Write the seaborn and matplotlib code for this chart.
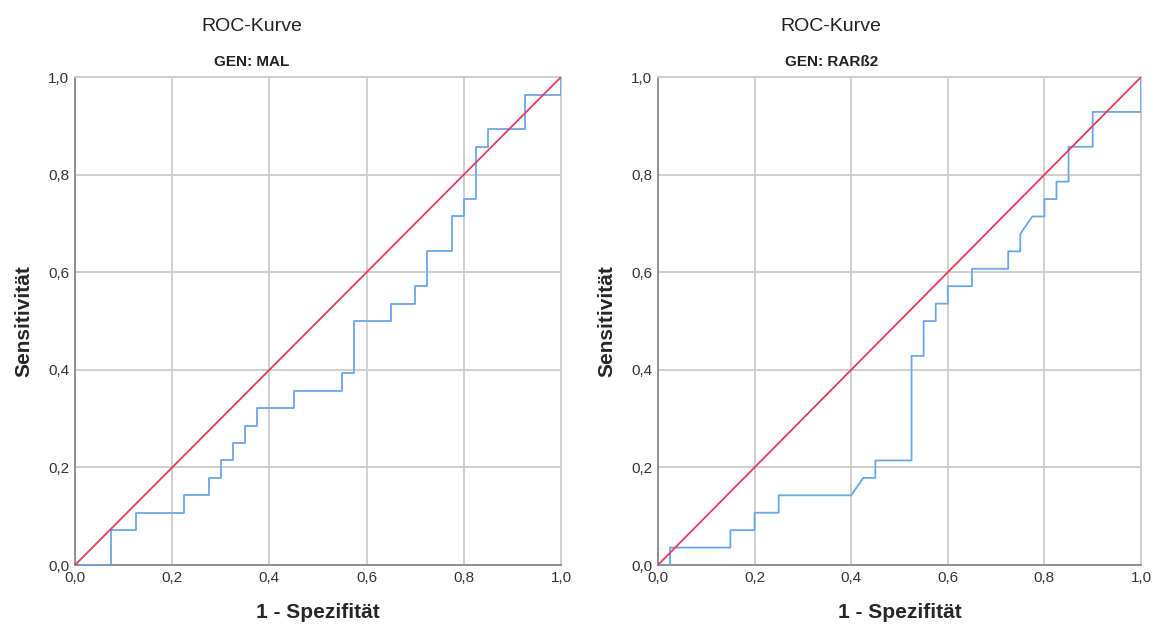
import seaborn as sns
import pandas as pd
import matplotlib.pyplot as plt

# ROC-Punkte (1 - Spezifität, Sensitivität)
mal_fpr = [0.0, 0.075, 0.075, 0.125, 0.125, 0.225, 0.225, 0.275, 0.275, 0.300, 0.300,
           0.325, 0.325, 0.350, 0.350, 0.375, 0.375, 0.450, 0.450, 0.550, 0.550,
           0.575, 0.575, 0.650, 0.650, 0.700, 0.700, 0.725, 0.725, 0.775, 0.775,
           0.800, 0.800, 0.825, 0.825, 0.850, 0.850, 0.925, 0.925, 1.0, 1.0]
mal_tpr = [0, 0, 2, 2, 3, 3, 4, 4, 5, 5, 6,
           6, 7, 7, 8, 8, 9, 9, 10, 10, 11,
           11, 14, 14, 15, 15, 16, 16, 18, 18, 20,
           20, 21, 21, 24, 24, 25, 25, 27, 27, 28]

rar_fpr = [0.0, 0.025, 0.025, 0.150, 0.150, 0.200, 0.200, 0.250, 0.250, 0.400, 0.425,
           0.450, 0.450, 0.525, 0.525, 0.550, 0.550, 0.575, 0.575, 0.600, 0.600,
           0.650, 0.650, 0.725, 0.725, 0.750, 0.750, 0.775, 0.800, 0.800, 0.825,
           0.825, 0.850, 0.850, 0.900, 0.900, 1.0, 1.0]
rar_tpr = [0, 0, 1, 1, 2, 2, 3, 3, 4, 4, 5,
           5, 6, 6, 12, 12, 14, 14, 15, 15, 16,
           16, 17, 17, 18, 18, 19, 20, 20, 21, 21,
           22, 22, 24, 24, 26, 26, 28]

n_pos = 28
panels = [("GEN: MAL", mal_fpr, mal_tpr), ("GEN: RARß2", rar_fpr, rar_tpr)]
ticks = [0.0, 0.2, 0.4, 0.6, 0.8, 1.0]
tick_labels = ["0,0", "0,2", "0,4", "0,6", "0,8", "1,0"]

sns.set_style("white")
plt.rcParams['font.family'] = ['Liberation Sans', 'DejaVu Sans']

fig = plt.figure(figsize=(11.61, 6.37), dpi=100)
ax_pos = [[0.0646, 0.113, 0.4186, 0.766], [0.5667, 0.113, 0.4161, 0.766]]
title_x = [0.217, 0.716]

for i, (gen, fpr, tpr) in enumerate(panels):
    ax = fig.add_axes(ax_pos[i])
    df = pd.DataFrame({"fpr": fpr, "tpr": [t / n_pos for t in tpr]})

    ax.grid(True, color="#cccccc", linewidth=1.3)
    ax.set_axisbelow(True)
    sns.lineplot(data=df, x="fpr", y="tpr", ax=ax, sort=False, estimator=None,
                 color="#6aa6ec", linewidth=1.3, zorder=3)
    sns.lineplot(x=[0, 1], y=[0, 1], ax=ax, color="#e23b5e", linewidth=1.3, zorder=4)

    ax.set_xlim(0, 1)
    ax.set_ylim(0, 1)
    ax.set_xticks(ticks)
    ax.set_xticklabels(tick_labels)
    ax.set_yticks(ticks)
    ax.set_yticklabels(tick_labels)
    ax.tick_params(axis="both", labelsize=11, colors="#333333", length=2, pad=2,
                   color="#999999")
    for side in ["top", "right"]:
        ax.spines[side].set_color("#cccccc")
        ax.spines[side].set_linewidth(1.3)
    for side in ["left", "bottom"]:
        ax.spines[side].set_color("#888888")
        ax.spines[side].set_linewidth(1.3)

    ax.set_xlabel("1 - Spezifität", fontsize=15, fontweight="bold", labelpad=13)
    ax.set_ylabel("Sensitivität", fontsize=15, fontweight="bold", labelpad=11)

    fig.text(title_x[i], 0.959, "ROC-Kurve", fontsize=14, ha="center", va="center",
             color="#222222")
    fig.text(title_x[i], 0.903, gen, fontsize=11, fontweight="bold", ha="center",
             va="center", color="#222222")

fig.savefig("out.png", dpi=100)
